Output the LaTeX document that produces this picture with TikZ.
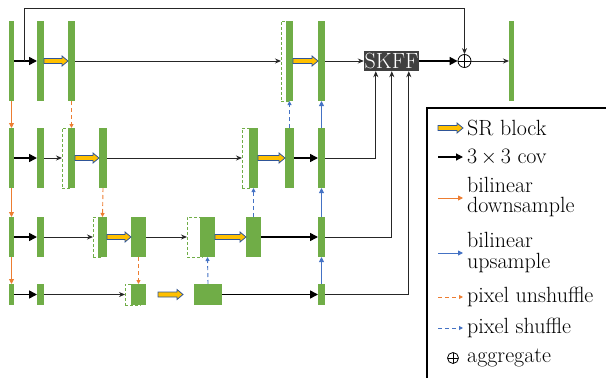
\documentclass[tikz,border=0pt]{standalone}
\usetikzlibrary{arrows.meta,calc,positioning}

\definecolor{bargreen}{HTML}{70AD47}
\definecolor{dsorange}{HTML}{ED7D31}
\definecolor{usblue}{HTML}{4472C4}
\definecolor{srgold}{HTML}{FFC000}
\definecolor{srline}{HTML}{2F5597}
\definecolor{skffgray}{HTML}{404040}

% block arrow used for the SR block
\newcommand{\srarrow}[2]{%
  \draw[srshape] ($(#1)+(0,-2.5)$) -- ($(#2)+(-6,-2.5)$) -- ($(#2)+(-6,-5)$) -- (#2)
    -- ($(#2)+(-6,5)$) -- ($(#2)+(-6,2.5)$) -- ($(#1)+(0,2.5)$) -- cycle;}

\begin{document}
\begin{tikzpicture}[
    x=1pt, y=-1pt,
    font=\fontsize{22}{22}\selectfont,
    bar/.style 2 args={rectangle, fill=bargreen, inner sep=0pt, outer sep=0pt, minimum width=#1, minimum height=#2},
    catbox/.style 2 args={rectangle, draw=bargreen, dash pattern=on 3pt off 2pt, line width=0.8pt, inner sep=0pt, outer sep=0pt, minimum width=#1, minimum height=#2},
    skffbox/.style={rectangle, fill=skffgray, text=white, inner sep=0pt, minimum width=55pt, minimum height=20pt},
    plus/.style={circle, draw, line width=0.8pt, inner sep=0pt, minimum size=13pt,
        path picture={\draw[line width=0.8pt] (path picture bounding box.north) -- (path picture bounding box.south)
            (path picture bounding box.west) -- (path picture bounding box.east);}},
    conv/.style={-{Triangle[length=8pt,width=8pt]}, line width=1.6pt, black},
    link/.style={-{Stealth[length=6pt,width=5pt]}, line width=0.9pt, black!85},
    dsline/.style={-{Triangle[length=5pt,width=5pt]}, line width=0.9pt, dsorange},
    usline/.style={-{Triangle[length=5pt,width=5pt]}, line width=0.9pt, usblue},
    puline/.style={-{Triangle[length=4pt,width=4pt]}, line width=0.9pt, dsorange, dash pattern=on 4pt off 3pt},
    psline/.style={-{Triangle[length=4pt,width=4pt]}, line width=0.9pt, usblue, dash pattern=on 4pt off 3pt},
    srshape/.style={fill=srgold, draw=srline, line width=0.8pt},
    lab/.style={anchor=west, inner sep=0pt}
]
    \useasboundingbox (0,0) rectangle (606,378);

    % row 1
    \node[bar={5pt}{80pt}] (a1) at (11.5,61) {};
    \node[bar={7pt}{80pt}] (b1) at (40.5,61) {};
    \node[bar={7pt}{80pt}] (c1) at (71.5,61) {};
    \node[catbox={7pt}{80pt}] (u1) at (284.5,61) {};
    \node[bar={7pt}{80pt}] (g1) at (289.5,61) {};
    \node[bar={7pt}{80pt}] (e1) at (321.5,61) {};
    \node[skffbox] (skff) at (391.5,61) {SKFF};
    \node[plus] (sum) at (464.5,61) {};
    \node[bar={5pt}{80pt}] (out) at (511.5,61) {};

    % row 2
    \node[bar={5pt}{60pt}] (a2) at (11.5,158) {};
    \node[bar={7pt}{60pt}] (b2) at (40.5,158) {};
    \node[catbox={7pt}{60pt}] (u2) at (65.5,158) {};
    \node[bar={7pt}{60pt}] (g2) at (71.5,158) {};
    \node[bar={8pt}{60pt}] (c2) at (103,158) {};
    \node[catbox={9pt}{60pt}] (v2) at (246.5,158) {};
    \node[bar={9pt}{60pt}] (h2) at (253.5,158) {};
    \node[bar={9pt}{60pt}] (d2) at (289.5,158) {};
    \node[bar={7pt}{60pt}] (e2) at (321.5,158) {};

    % row 3
    \node[bar={5pt}{40pt}] (a3) at (11.5,237) {};
    \node[bar={7pt}{40pt}] (b3) at (40.5,237) {};
    \node[catbox={9pt}{40pt}] (u3) at (97.5,237) {};
    \node[bar={9pt}{40pt}] (g3) at (102.5,237) {};
    \node[bar={15pt}{40pt}] (c3) at (138.5,237) {};
    \node[catbox={15pt}{40pt}] (v3) at (194.5,237) {};
    \node[bar={15pt}{40pt}] (h3) at (207.5,237) {};
    \node[bar={15pt}{40pt}] (d3) at (253.5,237) {};
    \node[bar={7pt}{40pt}] (e3) at (321.5,237) {};

    % row 4
    \node[bar={5pt}{21pt}] (a4) at (11.5,294.5) {};
    \node[bar={7pt}{21pt}] (b4) at (40.5,294.5) {};
    \node[catbox={15pt}{21pt}] (u4) at (132.5,294.5) {};
    \node[bar={15pt}{21pt}] (g4) at (138.5,294.5) {};
    \node[bar={28pt}{21pt}] (c4) at (208,294.5) {};
    \node[bar={7pt}{21pt}] (e4) at (321.5,294.5) {};

    \coordinate (skip) at (24.7,61);
    \coordinate (s4a) at (158,294.5);
    \coordinate (s4b) at (183,294.5);
    \coordinate (in2) at ($(skff.south west)+(12,0)$);
    \coordinate (in3) at ($(skff.south west)+(28,0)$);
    \coordinate (in4) at ($(skff.south west)+(45,0)$);

    % row 1 connectors
    \draw[conv] (a1.east) -- (b1.west);
    \draw[link] (skip) -- ++(0,-52.5) -| (sum.north);
    \srarrow{b1.east}{c1.west}
    \draw[link] (c1.east) -- (u1.west);
    \srarrow{g1.east}{e1.west}
    \draw[link] (e1.east) -- (skff.west);
    \draw[conv] (skff.east) -- (sum.west);
    \draw[link] (sum.east) -- (out.west);

    % row 2 connectors
    \draw[conv] (a2.east) -- (b2.west);
    \draw[link] (b2.east) -- (u2.west);
    \srarrow{g2.east}{c2.west}
    \draw[link] (c2.east) -- (v2.west);
    \srarrow{h2.east}{d2.west}
    \draw[conv] (d2.east) -- (e2.west);
    \draw[link] (e2.east) -| (in2);

    % row 3 connectors
    \draw[conv] (a3.east) -- (b3.west);
    \draw[link] (b3.east) -- (u3.west);
    \srarrow{g3.east}{c3.west}
    \draw[link] (c3.east) -- (v3.west);
    \srarrow{h3.east}{d3.west}
    \draw[conv] (d3.east) -- (e3.west);
    \draw[link] (e3.east) -| (in3);

    % row 4 connectors
    \draw[conv] (a4.east) -- (b4.west);
    \draw[link] (b4.east) -- (u4.west);
    \srarrow{s4a}{s4b}
    \draw[conv] (c4.east) -- (e4.west);
    \draw[link] (e4.east) -| (in4);

    % between rows
    \draw[dsline] (a1.south) -- (a2.north);
    \draw[dsline] (a2.south) -- (a3.north);
    \draw[dsline] (a3.south) -- (a4.north);
    \draw[puline] (c1.south) -- (g2.north);
    \draw[puline] (c2.south) -- (g3.north);
    \draw[puline] (c3.south) -- (g4.north);
    \draw[psline] (c4.north) -- (h3.south);
    \draw[psline] (d3.north) -- (h2.south);
    \draw[psline] (d2.north) -- (g1.south);
    \draw[usline] (e4.north) -- (e3.south);
    \draw[usline] (e3.north) -- (e2.south);
    \draw[usline] (e2.north) -- (e1.south);

    % legend
    \draw[line width=1.8pt] (427,378) -- (427,108) -- (606,108);
    \node[lab] (l1) at (467,128) {SR block};
    \node[lab] (l2) at (467,157) {3\,$\times$\,3 cov};
    \node[lab] (l3) at (467,185) {bilinear};
    \node[lab] (l3b) at (467,207.5) {downsample};
    \node[lab] (l4) at (467,240) {bilinear};
    \node[lab] (l4b) at (467,263) {upsample};
    \node[lab] (l5) at (467,297) {pixel unshuffle};
    \node[lab] (l6) at (467,328) {pixel shuffle};
    \node[lab] (l7) at (467,358) {aggregate};
    \node[plus, minimum size=11pt] (lsum) at (453,358) {};

    \coordinate (k1) at ($(l1.west)+(-29,0)$);
    \coordinate (k1e) at ($(l1.west)+(-4,0)$);
    \srarrow{k1}{k1e}
    \draw[conv, line width=1.2pt, -{Triangle[length=7pt,width=7pt]}] ($(l2.west)+(-29,0)$) -- ($(l2.west)+(-4,0)$);
    \draw[dsline] ($(l3.west)+(-29,13)$) -- ($(l3.west)+(-4,13)$);
    \draw[usline] ($(l4.west)+(-29,13)$) -- ($(l4.west)+(-4,13)$);
    \draw[puline] ($(l5.west)+(-29,0)$) -- ($(l5.west)+(-4,0)$);
    \draw[psline] ($(l6.west)+(-29,0)$) -- ($(l6.west)+(-4,0)$);
\end{tikzpicture}
\end{document}
